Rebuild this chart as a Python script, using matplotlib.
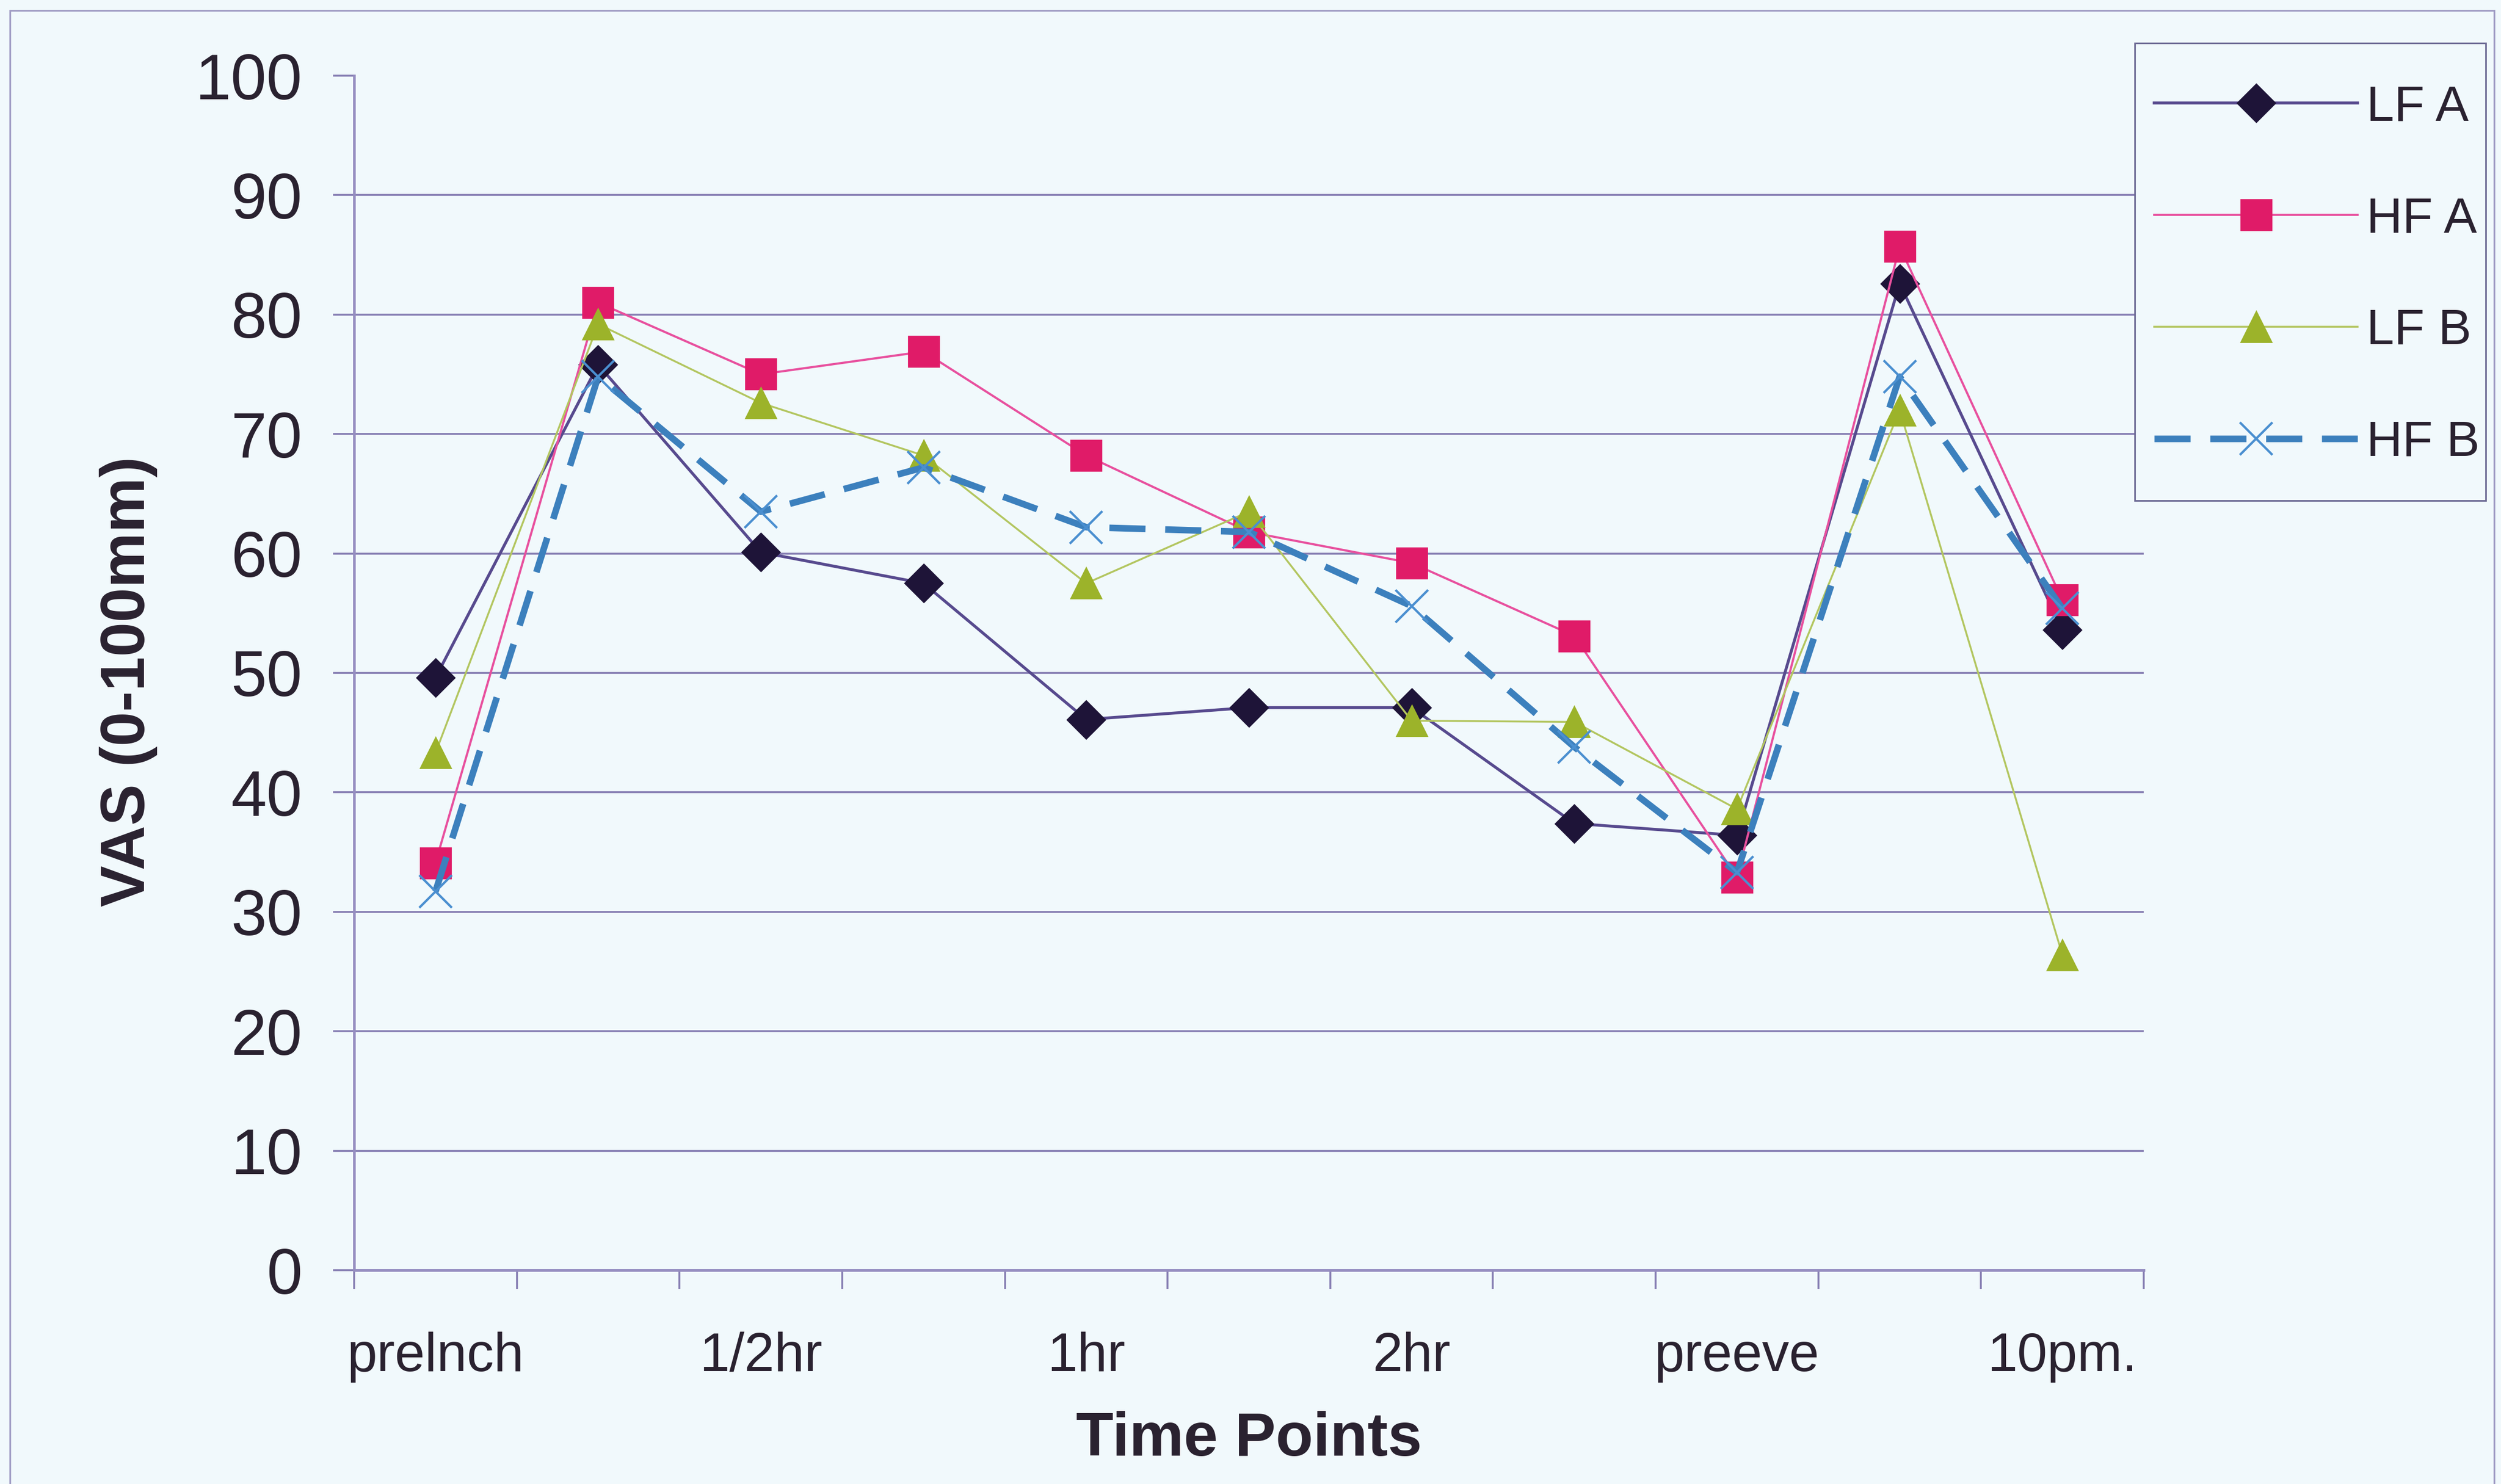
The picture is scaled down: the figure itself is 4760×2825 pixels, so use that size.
import numpy as np
import matplotlib
matplotlib.use("Agg")
import matplotlib.pyplot as plt
from matplotlib.patches import Rectangle

# Time points (labels shown on every other category)
categories = ["prelnch", "", "1/2hr", "", "1hr", "", "2hr", "", "preeve", "", "10pm."]

# Desire to eat ratings (VAS, 0-100 mm)
lf_a = [49.6, 75.8, 60.1, 57.5, 46.1, 47.1, 47.1, 37.4, 36.4, 82.6, 53.6]
hf_a = [34.1, 81.0, 75.0, 76.9, 68.2, 61.8, 59.2, 53.1, 32.9, 85.7, 56.1]
lf_b = [43.3, 79.2, 72.6, 68.2, 57.5, 63.5, 46.0, 45.9, 38.6, 72.0, 26.4]
hf_b = [31.7, 74.8, 63.5, 67.2, 62.2, 61.8, 55.6, 43.8, 33.3, 74.8, 55.4]

series_names = ["LF A", "HF A", "LF B", "HF B"]
y_ticks = list(range(0, 101, 10))

plt.rcParams["font.family"] = ["Liberation Sans", "DejaVu Sans"]

BG = "#f1f9fc"
GRID = "#857db2"
TEXT = "#2a2230"

W, H = 4760, 2825
fig = plt.figure(figsize=(W / 200, H / 200), dpi=200, facecolor=BG)

# outer chart frame
fig.patches.append(Rectangle((19 / W, -0.05), (4747 - 19) / W, 1.05 - 20 / H,
                             transform=fig.transFigure, fill=False,
                             edgecolor="#a09cc4", lw=1.2))

left, right, bottom, top = 674, 4080, 2418, 144
ax = fig.add_axes([left / W, (H - bottom) / H, (right - left) / W, (bottom - top) / H])
ax.set_facecolor("none")

x = np.arange(len(categories))

ax.plot(x, lf_a, color="#574a8e", lw=2.0, marker="D", ms=18.5,
        mfc="#1e1438", mec="#1e1438", label=series_names[0], zorder=3)
ax.plot(x, hf_a, color="#e8509e", lw=1.5, marker="s", ms=21,
        mfc="#e01b68", mec="#e01b68", label=series_names[1], zorder=4)
ax.plot(x, lf_b, color="#b3c660", lw=1.3, marker="^", ms=21,
        mfc="#9cb32a", mec="#9cb32a", label=series_names[2], zorder=5)
ax.plot(x, hf_b, color="#3c80bd", lw=4.5, ls=(0, (5.5, 3.0)), marker="x", ms=22,
        mew=1.6, mfc="#4a8fd0", mec="#4a8fd0", label=series_names[3], zorder=6)

ax.set_xlim(-0.5, len(categories) - 0.5)
ax.set_ylim(0, 100)

# y axis
ax.set_yticks(y_ticks)
ax.yaxis.grid(True, color=GRID, lw=1.3)
ax.get_ygridlines()[-1].set_visible(False)
ax.set_axisbelow(True)
ax.tick_params(axis="y", direction="out", length=14.5, width=1.3, color=GRID,
               labelsize=44, labelcolor=TEXT, pad=21)

# x axis: labels on categories, tick marks between them
ax.set_xticks(x)
ax.set_xticklabels(categories)
ax.set_xticks(np.arange(-0.5, len(categories), 1), minor=True)
ax.tick_params(axis="x", which="major", length=0, labelsize=37, labelcolor=TEXT, pad=42)
ax.tick_params(axis="x", which="minor", direction="out", length=13, width=1.3, color=GRID)

for s in ["top", "right"]:
    ax.spines[s].set_visible(False)
for s in ["left", "bottom"]:
    ax.spines[s].set_color("#958dc0")
    ax.spines[s].set_linewidth(1.8)

ax.set_xlabel("Time Points", fontsize=42, fontweight="bold", color=TEXT, va="center")
ax.xaxis.set_label_coords(0.5, (bottom - 2740) / (bottom - top))
ax.set_ylabel("VAS (0-100mm)", fontsize=42.5, fontweight="bold", color=TEXT,
              va="center", ha="center")
ax.yaxis.set_label_coords((245 - left) / (right - left), (bottom - 1297) / (bottom - top))

# legend entries, with a separate box drawn around them
leg = fig.legend(loc="center left", bbox_to_anchor=(4100 / W, 1 - 524 / H),
                 fontsize=34, frameon=False, borderaxespad=0, borderpad=0,
                 handlelength=4.1, handletextpad=0.18, labelspacing=1.31,
                 labelcolor=TEXT)
fig.patches.append(Rectangle((4063 / W, 1 - 953 / H), (4731 - 4063) / W, (953 - 82) / H,
                             transform=fig.transFigure, facecolor=BG,
                             edgecolor="#6c6a94", lw=1.1, zorder=0.5))

fig.savefig("out.png", dpi=200, facecolor=BG)
